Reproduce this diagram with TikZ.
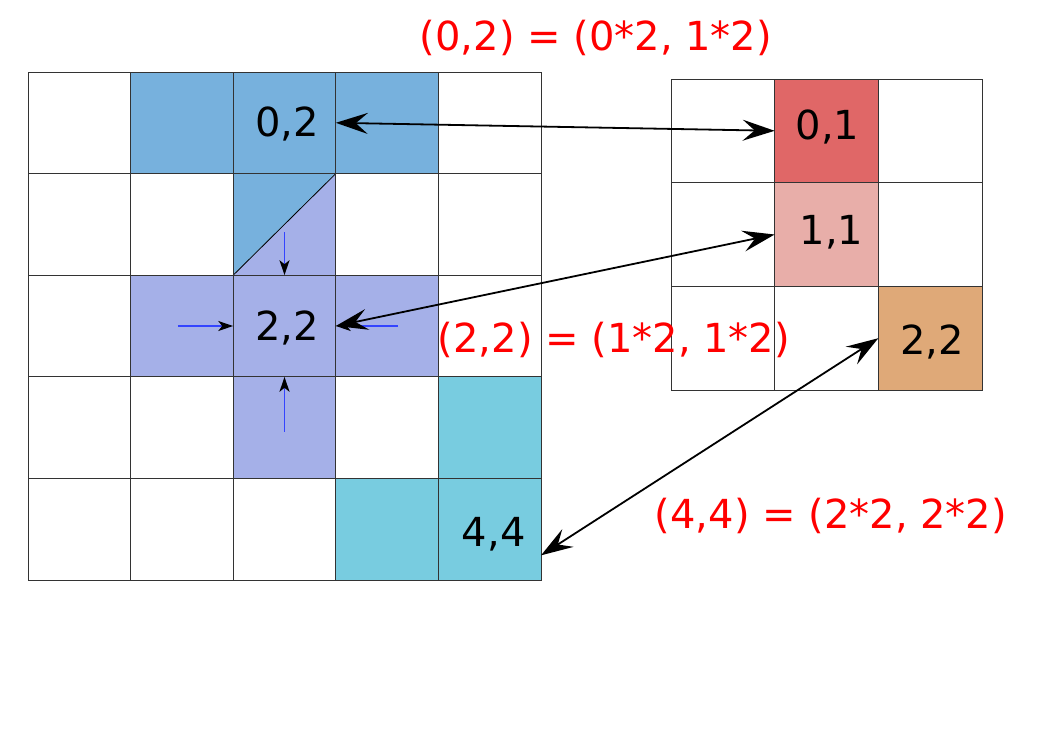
\documentclass[tikz,border=0pt]{standalone}
\usepackage{fontspec}
\setmainfont{DejaVu Sans}
\usetikzlibrary{arrows.meta}
\definecolor{cellblue}{HTML}{77B1DD}
\definecolor{celllavender}{HTML}{A5B0E8}
\definecolor{cellcyan}{HTML}{78CCE0}
\definecolor{cellred}{HTML}{E06767}
\definecolor{cellpink}{HTML}{E8AEA9}
\definecolor{celltan}{HTML}{DFA978}
\definecolor{arrowblue}{HTML}{3344FF}
\tikzset{
    left-cell/.style = {rectangle, minimum width=102.6pt, minimum height=101.6pt, inner sep=0pt, outer sep=0pt},
    right-cell/.style = {rectangle, minimum size=103.7pt, inner sep=0pt, outer sep=0pt},
    grid-line/.style = {draw=black!80, line width=0.8pt},
    cell-text/.style = {font=\fontsize{40}{48}\selectfont, text=black, inner sep=0pt},
    note-text/.style = {font=\fontsize{40}{48}\selectfont, text=red, inner sep=0pt},
    map-arrow/.style = {{Stealth[length=32pt, width=21pt, inset=12pt]}-{Stealth[length=32pt, width=21pt, inset=12pt]}, line width=1.8pt},
    shift-arrow/.style = {draw=arrowblue, line width=1.3pt, -{Stealth[length=15pt, width=10pt, inset=4pt, black]}},
}

\begin{document}
\begin{tikzpicture}[x=1pt, y=-1pt]
\useasboundingbox (0,0) rectangle (1053,745);
\foreach \r in {0,...,4} \foreach \c in {0,...,4}
    \node[left-cell] (l\r\c) at ({79.3+102.6*\c},{122.8+101.6*\r}) {};
\foreach \r in {0,1,2} \foreach \c in {0,1,2}
    \node[right-cell] (r\r\c) at ({722.8+103.7*\c},{130.8+103.7*\r}) {};

\foreach \n/\shade in {l01/cellblue, l02/cellblue, l03/cellblue, l21/celllavender, l22/celllavender, l23/celllavender,
    l32/celllavender, l34/cellcyan, l43/cellcyan, l44/cellcyan, r01/cellred, r11/cellpink, r22/celltan}
    \fill[\shade] (\n.north west) rectangle (\n.south east);
\fill[cellblue] (l12.north west) -- (l12.north east) -- (l12.south west) -- cycle;
\fill[celllavender] (l12.north east) -- (l12.south east) -- (l12.south west) -- cycle;
\draw[line width=0.8pt] (l12.south west) -- (l12.north east);

\foreach \r in {0,...,4} \foreach \c in {0,...,4}
    \draw[grid-line] (l\r\c.north west) rectangle (l\r\c.south east);
\foreach \r in {0,1,2} \foreach \c in {0,1,2}
    \draw[grid-line] (r\r\c.north west) rectangle (r\r\c.south east);

\node[cell-text, xshift=2.5pt, yshift=-1.5pt] (t02) at (l02) {0,2};
\node[cell-text, xshift=2.5pt, yshift=-2pt] (t22) at (l22) {2,2};
\node[cell-text, xshift=4pt, yshift=-5pt] (t44) at (l44) {4,4};
\node[cell-text, xshift=1pt, yshift=3.5pt] (s01) at (r01) {0,1};
\node[cell-text, xshift=5pt, yshift=2.3pt] (s11) at (r11) {1,1};
\node[cell-text, xshift=2pt, yshift=-4pt] (s22) at (r22) {2,2};

\draw[shift-arrow] ([yshift=-8pt]l12.center) -- (l22.north);
\draw[shift-arrow] ([xshift=-4pt]l21.center) -- (l22.west);
\draw[shift-arrow] ([xshift=11pt]l23.center) -- (l22.east);
\draw[shift-arrow] ([yshift=-4pt]l32.center) -- (l22.south);

\draw[map-arrow] (l02.east) -- (r01.west);
\draw[map-arrow] (l22.east) -- (r11.west);
\draw[map-arrow] (l44.-27) -- (r22.west);

\node[note-text] (n02) at (596,38) {(0,2) = (0*2, 1*2)};
\node[note-text] (n22) at (614,340) {(2,2) = (1*2, 1*2)};
\node[note-text] (n44) at (831,516) {(4,4) = (2*2, 2*2)};
\end{tikzpicture}
\end{document}
